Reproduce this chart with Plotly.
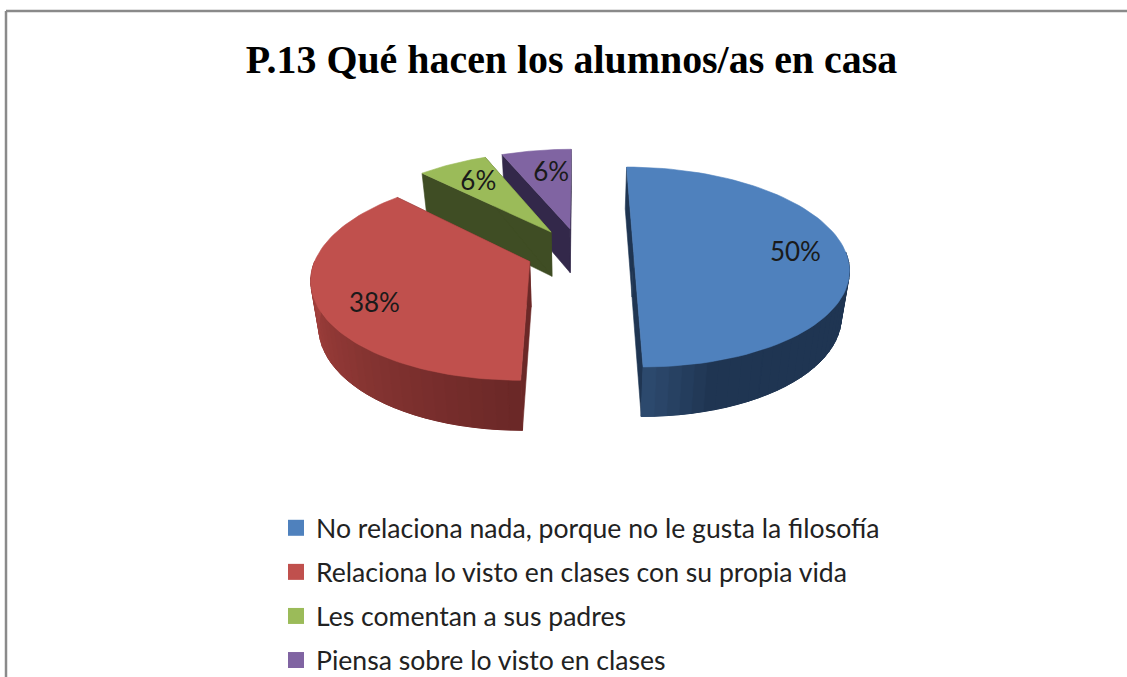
import numpy as np
import plotly.graph_objects as go

title = "P.13 Qué hacen los alumnos/as en casa"
categories = [
    "No relaciona nada, porque no le gusta la filosofía",
    "Relaciona lo visto en clases con su propia vida",
    "Les comentan a sus padres",
    "Piensa sobre lo visto en clases",
]
responses = [8, 6, 1, 1]
percent_labels = ["50%", "38%", "6%", "6%"]

top_colors = ["#4F81BD", "#C0504D", "#9BBB59", "#8064A2"]
face_colors = ["#1F3552", "#6B2827", "#3F4D24", "#33284A"]
wall_a = ["#1F3552", "#A8433F", "#3F4D24", "#33284A"]
wall_b = ["#2F4D73", "#6B2827", "#3F4D24", "#33284A"]
label_radius = [0.76, 0.78, 0.70, 0.664]
label_fraction = [0.51, 0.43, 0.47, 0.595]

# projection of the tilted, exploded pie onto page pixels
XC, YC, RX, RY, PERSP, EXPLODE, DEPTH, BOTTOM = 580, 252, 212, 97.7, 0.15, 0.253, 45, 0.97


def project(theta, r, mid, bottom=False):
    X = r * np.sin(theta) + EXPLODE * np.sin(mid)
    Y = r * np.cos(theta) + EXPLODE * np.cos(mid)
    s = 1 / (1 + PERSP * Y)
    px = RX * X * s
    py = -RY * Y * s
    if bottom:
        return XC + px * BOTTOM, YC + py * BOTTOM + DEPTH * s
    return XC + px, YC + py


def hex_rgb(c):
    return np.array([int(c[i:i + 2], 16) for i in (1, 3, 5)], float)


def mix(a, b, t):
    v = hex_rgb(a) * (1 - t) + hex_rgb(b) * t
    return "rgb(%d,%d,%d)" % tuple(v.round())


def poly(fig, xs, ys, color, lw=0.6):
    xs, ys = list(xs), list(ys)
    fig.add_trace(go.Scatter(
        x=xs + [xs[0]], y=ys + [ys[0]], mode="lines", fill="toself",
        fillcolor=color, line=dict(color=color, width=lw),
        hoverinfo="skip", showlegend=False))


fig = go.Figure()
total = sum(responses)
edges = np.cumsum([0] + responses) / total * 2 * np.pi

for i in [3, 2, 1, 0]:
    a0, a1 = edges[i], edges[i + 1]
    mid = (a0 + a1) / 2
    # straight cut faces
    for ang in (a0, a1):
        tx0, ty0 = project(ang, 1, mid)
        ax0, ay0 = project(ang, 0, mid)
        bx1, by1 = project(ang, 1, mid, True)
        cx1, cy1 = project(ang, 0, mid, True)
        poly(fig, [tx0, ax0, cx1, bx1], [ty0, ay0, cy1, by1], face_colors[i])
    # curved outer wall, only its front-facing part
    lo, hi = max(a0, np.pi / 2), min(a1, 3 * np.pi / 2)
    if hi > lo:
        n = int((hi - lo) / np.radians(3)) + 1
        th = np.linspace(lo, hi, n + 1)
        ux, uy = project(th, 1, mid)
        dx, dy = project(th, 1, mid, True)
        poly(fig, list(ux) + list(dx[::-1]), list(uy) + list(dy[::-1]), mix(wall_a[i], wall_b[i], 0.4))
        for j in range(n):
            f = (th[j] - lo) / (hi - lo)
            # blue: dark over most of the wall, lighter only close to the cut
            # red: light at the far left, darkest at the front cut
            t = max(0.0, (f - 0.8) / 0.2) if i == 0 else 1 - f
            col = mix(wall_a[i], wall_b[i], t)
            poly(fig, [ux[j], ux[j + 1], dx[j + 1], dx[j]],
                 [uy[j], uy[j + 1], dy[j + 1], dy[j]], col, lw=1)
    # top surface
    th = np.linspace(a0, a1, 80)
    tx, ty = project(th, 1, mid)
    ox, oy = project(0.0, 0, mid)
    poly(fig, [ox] + list(tx), [oy] + list(ty), top_colors[i])

# percentage labels
for i, lab in enumerate(percent_labels):
    mid = (edges[i] + edges[i + 1]) / 2
    ang = edges[i] + label_fraction[i] * (edges[i + 1] - edges[i])
    lx, ly = project(ang, label_radius[i], mid)
    fig.add_trace(go.Scatter(
        x=[lx], y=[ly], mode="text", text=[lab], textposition="middle center",
        textfont=dict(family="Lato", size=26, color="#1a1a1a"),
        hoverinfo="skip", showlegend=False))

# legend entries
for i, cat in enumerate(categories):
    fig.add_trace(go.Scatter(
        x=[None], y=[None], mode="markers", name=cat, legendgroup=str(i),
        marker=dict(symbol="square", size=17, color=top_colors[i])))

fig.update_layout(
    width=1127, height=677,
    margin=dict(l=0, r=0, t=0, b=0, autoexpand=False),
    paper_bgcolor="white", plot_bgcolor="white",
    xaxis=dict(range=[0, 1127], visible=False, fixedrange=True),
    yaxis=dict(range=[677, 0], visible=False, fixedrange=True),
    title=dict(text=title, x=571.5 / 1127, xanchor="center", xref="paper",
               y=1 - 59 / 677, yanchor="middle", yref="container",
               font=dict(family="Liberation Serif", size=39.9, color="black", weight="bold")),
    legend=dict(x=276 / 1127, xanchor="left", y=1 - 504 / 677, yanchor="top",
                traceorder="grouped", tracegroupgap=6.5, itemclick=False, itemdoubleclick=False,
                font=dict(family="Lato", size=26.6, color="#222222"), bgcolor="rgba(0,0,0,0)"),
    shapes=[
        dict(type="line", xref="x", yref="y", x0=6, y0=11, x1=1127, y1=11,
             line=dict(color="#8a8a8a", width=2.5)),
        dict(type="line", xref="x", yref="y", x0=6, y0=11, x1=6, y1=677,
             line=dict(color="#8a8a8a", width=2.5)),
    ],
)

fig.write_html("out.html", config={"displayModeBar": False},
               post_script="document.body.style.margin='0';document.body.style.overflow='hidden';")
